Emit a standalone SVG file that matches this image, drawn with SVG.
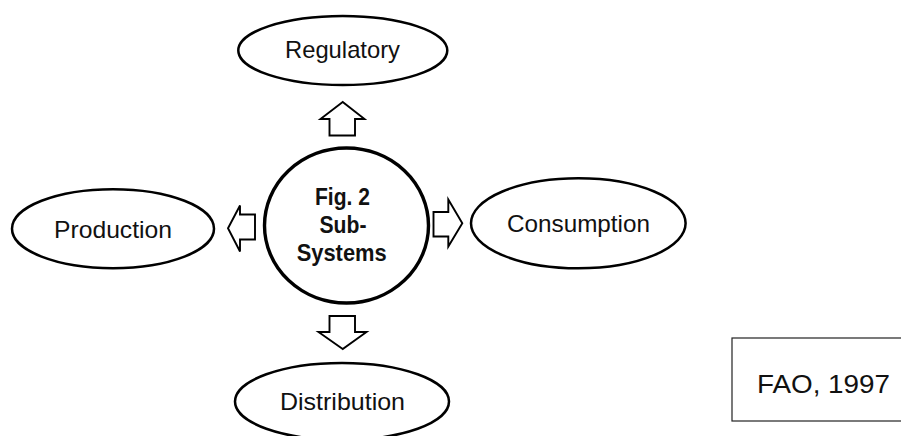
<svg xmlns="http://www.w3.org/2000/svg" width="901" height="436" viewBox="0 0 901 436">
<style>
.node ellipse{fill:#fff;stroke:#000;stroke-width:2.5}
.lbl{font-family:"Liberation Sans",Arial,sans-serif;font-size:24px;fill:#111;text-anchor:middle}
.bold{font-family:"Liberation Sans",Arial,sans-serif;font-size:24.5px;font-weight:bold;fill:#111;text-anchor:middle}
.arrow{fill:#fff;stroke:#000;stroke-width:1.9;stroke-linejoin:miter}
</style>
<rect width="901" height="436" fill="#fff"/>
<g id="connectors">
<polygon class="arrow" points="342.7,102 320.5,119 329.5,119 329.5,135.5 355,135.5 355,119 364.5,119"/>
<polygon class="arrow" points="342.7,349 318.5,332 329.5,332 329.5,316 355,316 355,332 366.5,332"/>
<polygon class="arrow" points="228,228.3 240,205.5 240,214.5 255,214.5 255,239.5 240,239.5 240,251.5"/>
<polygon class="arrow" points="462.3,223.3 448.3,199.5 448.3,212 433.5,212 433.5,236.5 448.3,236.5 448.3,246.5"/>
</g>
<g id="center" class="node">
<ellipse cx="346.5" cy="225.5" rx="82" ry="77.5" style="stroke-width:3.4"/>
<text class="bold" x="342.5" y="205" textLength="55" lengthAdjust="spacingAndGlyphs">Fig. 2</text>
<text class="bold" x="343" y="233.3" textLength="47" lengthAdjust="spacingAndGlyphs">Sub-</text>
<text class="bold" x="341.7" y="260.8" textLength="90" lengthAdjust="spacingAndGlyphs">Systems</text>
</g>
<g id="regulatory" class="node">
<ellipse cx="342.8" cy="50.5" rx="104.5" ry="34.5"/>
<text class="lbl" x="342.5" y="58.3" textLength="115" lengthAdjust="spacingAndGlyphs">Regulatory</text>
</g>
<g id="production" class="node">
<ellipse cx="113" cy="228.7" rx="101" ry="39.5"/>
<text class="lbl" x="113" y="237.7" textLength="118" lengthAdjust="spacingAndGlyphs">Production</text>
</g>
<g id="consumption" class="node">
<ellipse cx="578.3" cy="223.3" rx="107.3" ry="45"/>
<text class="lbl" x="578.5" y="231.7" textLength="143" lengthAdjust="spacingAndGlyphs">Consumption</text>
</g>
<g id="distribution" class="node">
<ellipse cx="342" cy="401.5" rx="107" ry="38.5"/>
<text class="lbl" x="342.5" y="410" textLength="125" lengthAdjust="spacingAndGlyphs">Distribution</text>
</g>
<g id="source">
<rect x="732" y="338" width="175" height="83" fill="#fff" stroke="#222" stroke-width="1.2"/>
<text class="lbl" x="823.5" y="393.3" style="font-size:26px" textLength="133" lengthAdjust="spacingAndGlyphs">FAO, 1997</text>
</g>
</svg>
